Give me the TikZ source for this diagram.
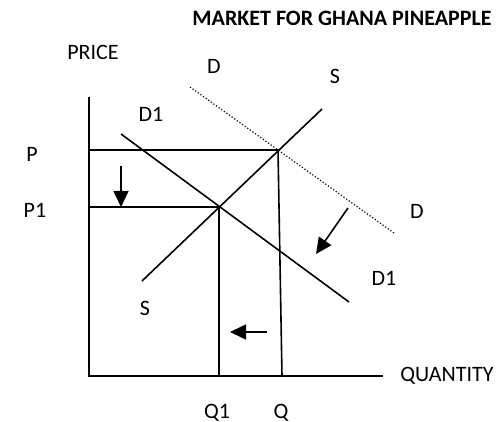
\documentclass[tikz,border=0pt]{standalone}
\usepackage{fontspec}
\setmainfont{Carlito}
\usetikzlibrary{arrows.meta}

\begin{document}
\begin{tikzpicture}[
  x=0.5pt, y=-0.5pt,
  lbl/.style={font=\fontsize{11}{13}\selectfont, inner sep=0pt},
  curve/.style={line width=0.8pt},
  move/.style={-{Triangle[length=8pt,width=7.5pt]}, line width=0.8pt}
]
\useasboundingbox (0,0) rectangle (497,422);

% Title
\node[lbl, font=\fontsize{11}{13}\selectfont\bfseries] (title) at (342,18)
  {MARKET FOR GHANA PINEAPPLE};

% Axes
\coordinate (ytop) at (89,97);
\coordinate (origin) at (89,376);
\coordinate (xend) at (383,376);
\draw[curve] (ytop) -- (origin) -- (xend);
\node[lbl] (price) at (93,52) {PRICE};
\node[lbl, anchor=west] (quantity) at (400,376) {QUANTITY};

% Equilibrium points
\coordinate (eq) at (278,150);
\coordinate (eqnew) at (219,207);
\coordinate (pax) at (89,150);
\coordinate (ponax) at (89,207);
\coordinate (qax) at (282,376);
\coordinate (qonax) at (219,376);

% Price and quantity guides
\draw[curve] (pax) -- (eq) -- (qax);
\draw[curve] (ponax) -- (eqnew) -- (qonax);
\node[lbl] (p) at (32,154) {P};
\node[lbl] (pone) at (35,210) {P1};
\node[lbl] (q) at (281,413) {Q};
\node[lbl] (qone) at (217,413) {Q1};

% Supply
\coordinate (stop) at (322,109);
\coordinate (sbot) at (142,281);
\draw[curve] (stop) -- (sbot);
\node[lbl] (stoplbl) at (335,76) {S};
\node[lbl] (sbotlbl) at (145,308) {S};

% Demand (old, dotted)
\coordinate (dtop) at (190,87);
\coordinate (dbot) at (394,233);
\draw[densely dotted, line width=0.6pt] (dtop) -- (dbot);
\node[lbl] (dtoplbl) at (214,66) {D};
\node[lbl] (dbotlbl) at (417,211) {D};

% Demand (new)
\coordinate (donetop) at (121,134);
\coordinate (donebot) at (349,302);
\draw[curve] (donetop) -- (donebot);
\node[lbl] (donetoplbl) at (151,114) {D1};
\node[lbl] (donebotlbl) at (384,278) {D1};

% Shift arrows
\coordinate (pdown1) at (121,166);
\coordinate (pdown2) at (121,207);
\coordinate (dshift1) at (348,208);
\coordinate (dshift2) at (316,254);
\coordinate (qleft1) at (267,332);
\coordinate (qleft2) at (230,332);
\draw[move] (pdown1) -- (pdown2);
\draw[move] (dshift1) -- (dshift2);
\draw[move] (qleft1) -- (qleft2);
\end{tikzpicture}
\end{document}
